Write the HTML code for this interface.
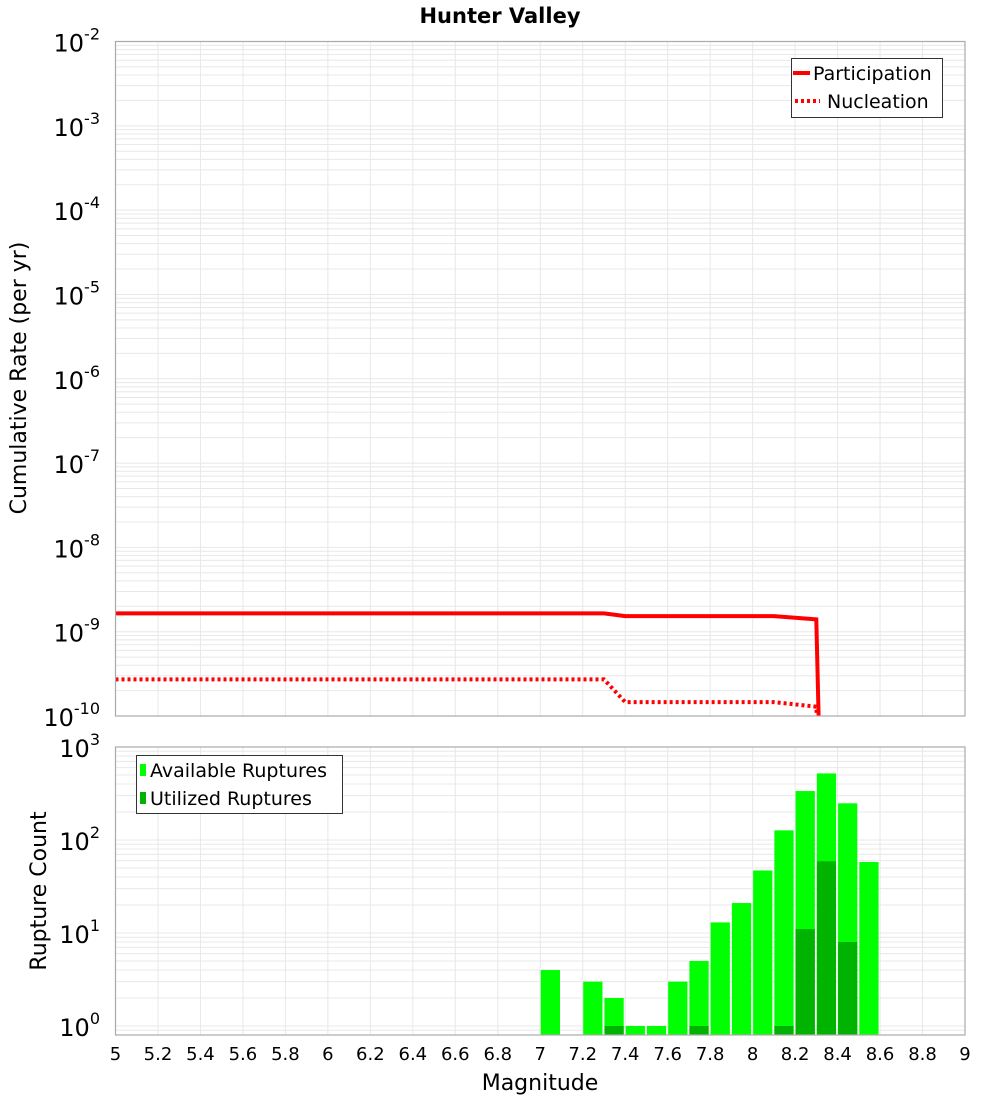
<!DOCTYPE html>
<html><head><meta charset="utf-8"><style>
body{margin:0;background:#fff;}
svg{display:block;font-family:"DejaVu Sans","Liberation Sans",sans-serif;}
</style></head><body>
<svg id="chart" width="1000" height="1100" xmlns="http://www.w3.org/2000/svg">
<text x="500" y="23" text-anchor="middle" font-size="21" font-weight="bold">Hunter Valley</text>
<g id="topPlot"></g>
<g id="botPlot"></g>
<text transform="translate(26,378) rotate(-90)" text-anchor="middle" font-size="22">Cumulative Rate (per yr)</text>
<text transform="translate(46,891) rotate(-90)" text-anchor="middle" font-size="22">Rupture Count</text>
<text x="540" y="1090" text-anchor="middle" font-size="22">Magnitude</text>
</svg>
<script>
const partMags=[5.0,7.3,7.4,8.1,8.3,8.32];
const partRates=[1.65e-9,1.65e-9,1.53e-9,1.53e-9,1.40e-9,1e-11];
const nuclMags=[5.0,7.3,7.4,8.1,8.3,8.32];
const nuclRates=[2.72e-10,2.72e-10,1.46e-10,1.46e-10,1.29e-10,1e-11];
const binMags=[7.0,7.2,7.3,7.4,7.5,7.6,7.7,7.8,7.9,8.0,8.1,8.2,8.3,8.4,8.5];
const availCounts=[4,3,2,1,1,3,5,13,21,47,127,336,520,248,58];
const usedCounts=[0,0,1,0,0,0,1,0,0,0,1,11,59,8,0];
const xTicks=[5,5.2,5.4,5.6,5.8,6,6.2,6.4,6.6,6.8,7,7.2,7.4,7.6,7.8,8,8.2,8.4,8.6,8.8,9];

const NS="http://www.w3.org/2000/svg";
function mk(tag,attrs,parent,txt){const e=document.createElementNS(NS,tag);for(const k in attrs)e.setAttribute(k,attrs[k]);if(txt!==undefined)e.textContent=txt;parent.appendChild(e);return e;}
const L=115.5,R=965;
const xS=m=>L+(m-5)/4*(R-L);
const T1=41.5,B1=716,yT=v=>B1-(Math.log10(v)+10)/8*(B1-T1);
const T2=747,Y0=1026,dec2=93,B2=1035,yB=v=>Y0-Math.log10(v)*dec2;
const topG=document.getElementById('topPlot'),botG=document.getElementById('botPlot');

function grid(g,T,B,decades,yf){
  const gg=mk('g',{},g);
  
  
  for(const d of decades)for(let k=1;k<10;k++){const y=yf(k*Math.pow(10,d));if(y>=T-0.5&&y<=B)mk('line',{x1:L,x2:R,y1:y,y2:y,stroke:'#e8e8e8','stroke-width':1},gg);}
  for(const t of xTicks){const x=xS(t);mk('line',{x1:x,x2:x,y1:T,y2:B,stroke:'#e8e8e8','stroke-width':1},gg);}
}
grid(topG,T1,B1,[-10,-9,-8,-7,-6,-5,-4,-3,-2],yT);
grid(botG,T2,B2,[-1,0,1,2,3],yB);

for(let e=-10;e<=-2;e++){
  const y=yT(Math.pow(10,e));
  const t=mk('text',{x:100,y:y+10,'text-anchor':'end','font-size':24},topG);
  
  
  mk('tspan',{},t,'10');mk('tspan',{dy:-12,'font-size':16},t,String(e));
}
for(let e=0;e<=3;e++){
  const y=yB(Math.pow(10,e));
  const t=mk('text',{x:100,y:y+10,'text-anchor':'end','font-size':24},botG);
  
  
  mk('tspan',{},t,'10');mk('tspan',{dy:-12,'font-size':16},t,String(e));
}
xTicks.forEach(t=>{
  const lab=mk('text',{x:xS(t),y:1060,'text-anchor':'middle','font-size':18},botG,String(t));
  
  
});

const defs=mk('defs',{},document.getElementById('chart'));
const cp=mk('clipPath',{id:'c1'},defs);mk('rect',{x:L,y:T1,width:R-L,height:B1-T1},cp);
function series(mags,rates,dash,name){
  const pts=mags.map((m,i)=>xS(m).toFixed(1)+','+yT(rates[i]).toFixed(1)).join(' ');
  const p=mk('polyline',{points:pts,fill:'none',stroke:'#ff0000','stroke-width':4,'clip-path':'url(#c1)'},topG);
  if(dash)p.setAttribute('stroke-dasharray','3,3');
  
  
}
series(partMags,partRates,false,'participation-line');
series(nuclMags,nuclRates,true,'nucleation-line');

const bw=(R-L)/40;
binMags.forEach((m,i)=>{
  const x=xS(m)+0.5,w=bw-2;
  const y=yB(availCounts[i]);
  const r=mk('rect',{x:x,y:y,width:w,height:B2-y,fill:'#00ff00'},botG);
  
  
  if(usedCounts[i]>0){const y2=yB(usedCounts[i]);
    const r2=mk('rect',{x:x,y:y2,width:w,height:B2-y2,fill:'#00b300'},botG);
    
    }
});

mk('rect',{x:L,y:T1,width:R-L,height:B1-T1,fill:'none',stroke:'#aaa','stroke-width':1.2},topG);
mk('rect',{x:L,y:T2,width:R-L,height:B2-T2,fill:'none',stroke:'#aaa','stroke-width':1.2},botG);

const lg=mk('g',{},topG);


mk('rect',{x:791.5,y:58.5,width:151,height:59,fill:'#fff',stroke:'#333','stroke-width':1},lg);
mk('line',{x1:793,x2:810,y1:73,y2:73,stroke:'#f00','stroke-width':4},lg);
mk('text',{x:813,y:80,'font-size':19},lg,'Participation');
mk('line',{x1:795,x2:820,y1:101,y2:101,stroke:'#f00','stroke-width':4,'stroke-dasharray':'3,3'},lg);
mk('text',{x:827,y:108,'font-size':19},lg,'Nucleation');

const lg2=mk('g',{},botG);


mk('rect',{x:136.5,y:755.5,width:206,height:58,fill:'#fff',stroke:'#333','stroke-width':1},lg2);
mk('rect',{x:140,y:764,width:6,height:12,fill:'#00ff00'},lg2);
mk('text',{x:150,y:777,'font-size':19},lg2,'Available Ruptures');
mk('rect',{x:140,y:792,width:6,height:12,fill:'#00b300'},lg2);
mk('text',{x:150,y:805,'font-size':19},lg2,'Utilized Ruptures');
</script>
</body></html>
